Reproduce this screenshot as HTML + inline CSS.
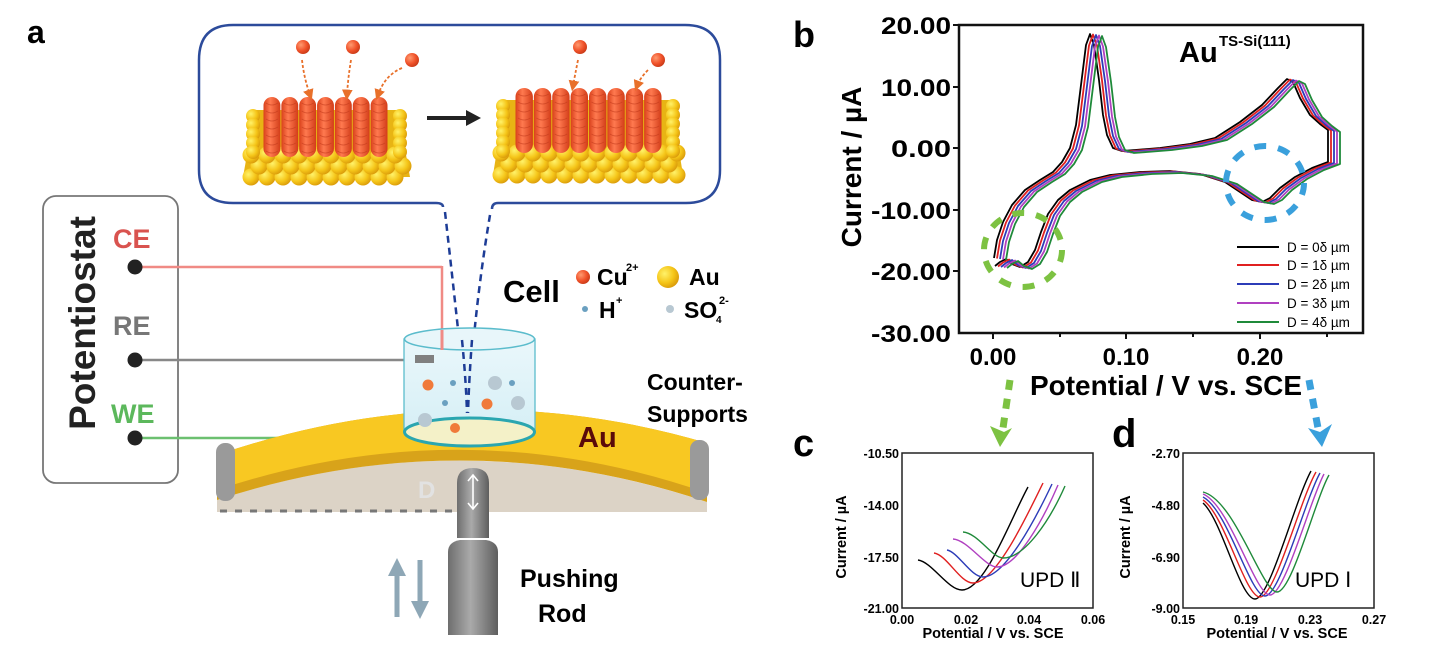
<!DOCTYPE html>
<html><head><meta charset="utf-8"><style>
html,body{margin:0;padding:0;background:#fff;}
svg{display:block;font-family:"Liberation Sans",Arial,sans-serif;}
.b{font-weight:bold;}
</style></head><body>
<svg id="s" width="1430" height="665" viewBox="0 0 1430 665" xmlns="http://www.w3.org/2000/svg">
<defs>
<marker id="oa" markerWidth="6" markerHeight="6" refX="3" refY="3" orient="auto"><path d="M0,0 L6,3 L0,6 Z" fill="#e8702a"/></marker>
<radialGradient id="gb" cx="0.35" cy="0.35" r="0.7"><stop offset="0" stop-color="#fff26a"/><stop offset="0.6" stop-color="#f5c518"/><stop offset="1" stop-color="#d99a0a"/></radialGradient>
<radialGradient id="ob" cx="0.35" cy="0.35" r="0.7"><stop offset="0" stop-color="#ff9a70"/><stop offset="0.6" stop-color="#f0522a"/><stop offset="1" stop-color="#c83a18"/></radialGradient>
<linearGradient id="rod" x1="0" x2="1"><stop offset="0" stop-color="#6e6e6e"/><stop offset="0.45" stop-color="#aaa"/><stop offset="1" stop-color="#5e5e5e"/></linearGradient>
<linearGradient id="orod" x1="0" x2="1"><stop offset="0" stop-color="#d8401a"/><stop offset="0.4" stop-color="#ff7a50"/><stop offset="1" stop-color="#d23c18"/></linearGradient>
<linearGradient id="cyl" x1="0" y1="0" x2="0" y2="1"><stop offset="0" stop-color="#eaf7fb"/><stop offset="1" stop-color="#d3eef5"/></linearGradient>
</defs>

<!-- ===== Panel a ===== -->
<text x="27" y="43" class="b" font-size="32">a</text>

<!-- callout -->
<path d="M443,207 Q443,203 436,203 L233,203 Q199,203 199,170 L199,60 Q199,25 233,25 L685,25 Q720,25 720,60 L720,170 Q720,203 686,203 L498,203 Q492,203 492,209" fill="none" stroke="#2c4b9b" stroke-width="2.5"/>
<path d="M445,212 Q455,300 467,413" fill="none" stroke="#1d3c96" stroke-width="2.5" stroke-dasharray="7 5"/>
<path d="M490,215 Q474,310 468,413" fill="none" stroke="#1d3c96" stroke-width="2.5" stroke-dasharray="7 5"/>
<g id="cryst"></g>
<!-- arrow -->
<line x1="427" y1="118" x2="468" y2="118" stroke="#222" stroke-width="4"/>
<path d="M466,110 L481,118 L466,126 Z" fill="#222"/>
<!-- balls & dashed arrows -->
<circle cx="303" cy="47" r="7" fill="url(#ob)"/><circle cx="353" cy="47" r="7" fill="url(#ob)"/><circle cx="412" cy="60" r="7" fill="url(#ob)"/>
<circle cx="580" cy="47" r="7" fill="url(#ob)"/><circle cx="658" cy="60" r="7" fill="url(#ob)"/>
<g fill="none" stroke="#e8702a" stroke-width="1.8" stroke-dasharray="3 2" marker-end="url(#oa)">
<path d="M302,60 Q304,78 310,95"/><path d="M351,60 Q348,78 347,95"/><path d="M402,68 Q385,75 378,95"/>
<path d="M578,60 Q575,75 573,86"/><path d="M648,70 Q640,78 637,86"/>
</g>

<!-- potentiostat -->
<rect x="43" y="196" width="135" height="287" rx="13" fill="none" stroke="#777" stroke-width="1.8"/>
<text transform="translate(95,323) rotate(-90)" text-anchor="middle" class="b" font-size="37" fill="#222">Potentiostat</text>
<text x="113" y="248" class="b" font-size="27" fill="#d9534f">CE</text>
<text x="113" y="335" class="b" font-size="27" fill="#777">RE</text>
<text x="111" y="423" class="b" font-size="27" fill="#5cb85c">WE</text>
<line x1="135" y1="267" x2="442" y2="267" stroke="#f08a85" stroke-width="2.5"/>
<line x1="442" y1="266" x2="442" y2="350" stroke="#f08a85" stroke-width="2.5"/>
<line x1="135" y1="360" x2="420" y2="360" stroke="#888" stroke-width="2.5"/>
<line x1="135" y1="438" x2="415" y2="438" stroke="#6cc070" stroke-width="2.5"/>
<circle cx="135" cy="267" r="7.5" fill="#222"/><circle cx="135" cy="360" r="7.5" fill="#222"/><circle cx="135" cy="438" r="7.5" fill="#222"/>

<!-- shadow below plate -->
<path d="M217,500 Q460,420 707,502 L707,512 L217,512 Z" fill="#dcd3c6"/>
<line x1="220" y1="511" x2="455" y2="511" stroke="#777" stroke-width="3" stroke-dasharray="7 8"/>
<!-- plate -->
<path d="M217,455 Q462,371 707,443 L707,502 Q462,420 217,500 Z" fill="#d8a31a"/>
<path d="M217,455 Q462,371 707,443 L707,493 Q462,408 217,490 Z" fill="#f8c822"/>
<!-- supports -->
<rect x="216" y="443" width="19" height="58" rx="9" fill="#9a9a9a"/>
<rect x="690" y="440" width="19" height="60" rx="9" fill="#9a9a9a"/>
<text x="418" y="498" class="b" font-size="24" fill="#e2e2e2">D</text>
<!-- rod -->
<path d="M457,538 L457,483 Q457,468 473,468 Q489,468 489,483 L489,538 Z" fill="url(#rod)"/>
<path d="M448,635 L448,552 Q448,542 460,540 L486,540 Q498,542 498,552 L498,635 Z" fill="url(#rod)"/>
<g stroke="#fff" stroke-width="1.6" fill="none"><line x1="473" y1="476" x2="473" y2="508"/><path d="M468,481 L473,475 L478,481"/><path d="M468,503 L473,509 L478,503"/></g>
<!-- up/down arrows -->
<line x1="397" y1="574" x2="397" y2="617" stroke="#8ea7b6" stroke-width="5"/><path d="M388,576 L397,558 L406,576 Z" fill="#8ea7b6"/>
<line x1="420" y1="560" x2="420" y2="603" stroke="#8ea7b6" stroke-width="5"/><path d="M411,601 L420,619 L429,601 Z" fill="#8ea7b6"/>

<!-- cell -->
<path d="M404,339 L404,432 A65,14 0 0 0 535,432 L535,339 Z" fill="url(#cyl)" stroke="#5bbccc" stroke-width="1.3"/>
<ellipse cx="469.5" cy="432" rx="65" ry="14" fill="#f4f1c8" stroke="#2aa6b0" stroke-width="3"/>
<ellipse cx="469.5" cy="339" rx="65" ry="11" fill="#e8f6fa" stroke="#5bbccc" stroke-width="1.5"/>
<line x1="442" y1="330" x2="442" y2="350" stroke="#f08a85" stroke-width="3"/>
<rect x="415" y="355" width="19" height="8" fill="#808080"/>
<path d="M462,340 Q466,380 467,413" fill="none" stroke="#1d3c96" stroke-width="2.5" stroke-dasharray="7 5"/>
<path d="M472,340 Q469,380 468,413" fill="none" stroke="#1d3c96" stroke-width="2.5" stroke-dasharray="7 5"/>
<circle cx="428" cy="385" r="5.5" fill="#f07a3a"/><circle cx="453" cy="383" r="3" fill="#6aa0c0"/><circle cx="495" cy="383" r="7" fill="#b8c8d2"/><circle cx="512" cy="383" r="3" fill="#6aa0c0"/>
<circle cx="445" cy="403" r="3" fill="#6aa0c0"/><circle cx="487" cy="404" r="5.5" fill="#f07a3a"/><circle cx="518" cy="403" r="7" fill="#b8c8d2"/><circle cx="425" cy="420" r="7" fill="#b8c8d2"/><circle cx="455" cy="428" r="5" fill="#f07a3a"/>

<text x="503" y="302" class="b" font-size="31">Cell</text>
<circle cx="583" cy="277" r="7" fill="url(#ob)"/><text x="597" y="285" class="b" font-size="23">Cu</text><text x="626" y="271" class="b" font-size="11">2+</text>
<circle cx="668" cy="277" r="11" fill="url(#gb)"/><text x="689" y="285" class="b" font-size="23">Au</text>
<circle cx="585" cy="309" r="3" fill="#6aa0c0"/><text x="599" y="318" class="b" font-size="23">H</text><text x="616" y="304" class="b" font-size="11">+</text>
<circle cx="670" cy="309" r="4" fill="#b8c8d2"/><text x="684" y="318" class="b" font-size="23">SO</text><text x="716" y="323" class="b" font-size="10">4</text><text x="719" y="304" class="b" font-size="11">2-</text>

<text x="578" y="447" class="b" font-size="29" fill="#5a0a0a">Au</text>
<text x="647" y="390" class="b" font-size="23">Counter-</text>
<text x="647" y="422" class="b" font-size="23">Supports</text>
<text x="520" y="587" class="b" font-size="25">Pushing</text>
<text x="538" y="622" class="b" font-size="25">Rod</text>

<!-- ===== Panel b ===== -->
<text x="793" y="47" class="b" font-size="36">b</text>
<rect x="959" y="25" width="404" height="308" fill="none" stroke="#111" stroke-width="2.5"/>
<g stroke="#111" stroke-width="2">
<line x1="953" y1="25" x2="959" y2="25"/><line x1="953" y1="87" x2="959" y2="87"/><line x1="953" y1="148" x2="959" y2="148"/><line x1="953" y1="210" x2="959" y2="210"/><line x1="953" y1="271" x2="959" y2="271"/>
<line x1="993" y1="333" x2="993" y2="339"/><line x1="1060" y1="333" x2="1060" y2="337"/><line x1="1126" y1="333" x2="1126" y2="339"/><line x1="1193" y1="333" x2="1193" y2="337"/><line x1="1260" y1="333" x2="1260" y2="339"/><line x1="1327" y1="333" x2="1327" y2="337"/>
</g>
<g class="b" font-size="24" text-anchor="end">
<text x="951" y="34" textLength="70" lengthAdjust="spacingAndGlyphs">20.00</text>
<text x="951" y="96" textLength="70" lengthAdjust="spacingAndGlyphs">10.00</text>
<text x="951" y="157" textLength="60" lengthAdjust="spacingAndGlyphs">0.00</text>
<text x="951" y="219" textLength="80" lengthAdjust="spacingAndGlyphs">-10.00</text>
<text x="951" y="280" textLength="80" lengthAdjust="spacingAndGlyphs">-20.00</text>
<text x="951" y="342" textLength="80" lengthAdjust="spacingAndGlyphs">-30.00</text>
</g>
<g class="b" font-size="24" text-anchor="middle">
<text x="993" y="365">0.00</text><text x="1126" y="365">0.10</text><text x="1260" y="365">0.20</text>
</g>
<text x="1166" y="395" class="b" font-size="28" text-anchor="middle" textLength="272" lengthAdjust="spacingAndGlyphs">Potential / V vs. SCE</text>
<text transform="translate(861,167) rotate(-90)" class="b" font-size="28" text-anchor="middle">Current / µA</text>
<text x="1179" y="62" class="b" font-size="29">Au</text><text x="1219" y="46" class="b" font-size="15">TS-Si(111)</text>
<g id="cv" fill="none" stroke-width="1.8" stroke-linejoin="round"></g>
<ellipse cx="1023" cy="250" rx="39" ry="37" fill="none" stroke="#7dc242" stroke-width="6" stroke-dasharray="12 12"/>
<ellipse cx="1265" cy="183" rx="39" ry="37" fill="none" stroke="#3aa0dc" stroke-width="6" stroke-dasharray="12 12"/>
<g font-size="13.5">
<line x1="1237" y1="247" x2="1279" y2="247" stroke="#000" stroke-width="2"/><text x="1287" y="252">D = 0δ µm</text>
<line x1="1237" y1="265" x2="1279" y2="265" stroke="#e02020" stroke-width="2"/><text x="1287" y="270">D = 1δ µm</text>
<line x1="1237" y1="284" x2="1279" y2="284" stroke="#2c3cb8" stroke-width="2"/><text x="1287" y="289">D = 2δ µm</text>
<line x1="1237" y1="303" x2="1279" y2="303" stroke="#b040c0" stroke-width="2"/><text x="1287" y="308">D = 3δ µm</text>
<line x1="1237" y1="322" x2="1279" y2="322" stroke="#1f8a3a" stroke-width="2"/><text x="1287" y="327">D = 4δ µm</text>
</g>
<!-- connecting arrows -->
<line x1="1010" y1="380" x2="1003" y2="428" stroke="#7dc242" stroke-width="7" stroke-dasharray="10 9"/>
<path d="M990,426 L1000,447 L1012,428 L1004,432 Z" fill="#7dc242"/>
<line x1="1309" y1="380" x2="1318" y2="428" stroke="#3aa0dc" stroke-width="7" stroke-dasharray="10 9"/>
<path d="M1308,428 L1322,447 L1332,424 L1320,432 Z" fill="#3aa0dc"/>

<!-- ===== Panel c ===== -->
<text x="793" y="456" class="b" font-size="38">c</text>
<rect x="902" y="453" width="191" height="155" fill="none" stroke="#222" stroke-width="1.5"/>
<g class="b" font-size="12.5" text-anchor="end">
<text x="899" y="458">-10.50</text><text x="899" y="510">-14.00</text><text x="899" y="562">-17.50</text><text x="899" y="613">-21.00</text>
</g>
<g class="b" font-size="12.5" text-anchor="middle">
<text x="902" y="624">0.00</text><text x="966" y="624">0.02</text><text x="1029" y="624">0.04</text><text x="1093" y="624">0.06</text>
</g>
<text x="993" y="638" class="b" font-size="14.5" text-anchor="middle">Potential / V vs. SCE</text>
<text transform="translate(846,537) rotate(-90)" class="b" font-size="14.5" text-anchor="middle">Current / µA</text>
<text x="1020" y="587" font-size="21">UPD Ⅱ</text>
<g fill="none" stroke-width="1.4">
<path stroke="#000" d="M918,560 C932,562 948,590 962,590 C985,590 1010,520 1028,487"/>
<path stroke="#e02020" d="M934,553 C947,555 960,583 973,583 C995,583 1025,520 1043,483"/>
<path stroke="#2c3cb8" d="M947,550 C958,552 971,577 983,577 C1005,577 1035,520 1052,484"/>
<path stroke="#b040c0" d="M953,539 C968,540 985,567 997,567 C1017,567 1043,520 1058,485"/>
<path stroke="#1f8a3a" d="M963,532 C978,533 992,558 1003,558 C1025,558 1050,520 1065,486"/>
</g>

<!-- ===== Panel d ===== -->
<text x="1112" y="447" class="b" font-size="40">d</text>
<rect x="1183" y="453" width="191" height="155" fill="none" stroke="#222" stroke-width="1.5"/>
<g class="b" font-size="12.5" text-anchor="end">
<text x="1180" y="458">-2.70</text><text x="1180" y="510">-4.80</text><text x="1180" y="562">-6.90</text><text x="1180" y="613">-9.00</text>
</g>
<g class="b" font-size="12.5" text-anchor="middle">
<text x="1183" y="624">0.15</text><text x="1246" y="624">0.19</text><text x="1310" y="624">0.23</text><text x="1374" y="624">0.27</text>
</g>
<text x="1277" y="638" class="b" font-size="14.5" text-anchor="middle">Potential / V vs. SCE</text>
<text transform="translate(1130,537) rotate(-90)" class="b" font-size="14.5" text-anchor="middle">Current / µA</text>
<text x="1295" y="587" font-size="21">UPD Ⅰ</text>
<g fill="none" stroke-width="1.4">
<path stroke="#000" d="M1203,503 C1222,520 1240,599 1255,599 C1270,599 1295,500 1311,471"/>
<path stroke="#e02020" d="M1203,500 C1225,515 1245,597 1260,597 C1275,597 1300,500 1316,472"/>
<path stroke="#2c3cb8" d="M1203,497 C1228,510 1250,596 1265,596 C1280,596 1305,500 1320,473"/>
<path stroke="#b040c0" d="M1203,494 C1230,505 1255,595 1270,595 C1285,595 1310,500 1324,474"/>
<path stroke="#1f8a3a" d="M1203,492 C1235,500 1262,592 1277,592 C1292,592 1315,500 1329,475"/>
</g>
</svg>
<script>
(function(){
var NS="http://www.w3.org/2000/svg";
function el(p,n,a){var e=document.createElementNS(NS,n);for(var k in a)e.setAttribute(k,a[k]);p.appendChild(e);return e;}
var g=document.getElementById("cryst");
function crystal(x0,x1,gy0,gy1,ox0,ox1,oy0,oy1,n){
  // gold base
  el(g,"path",{d:"M"+(x0+12)+","+gy0+" L"+(x1-12)+","+gy0+" L"+x1+","+(gy1-8)+" L"+x0+","+(gy1-8)+" Z",fill:"#e8b414"});
  for(var r=0;r<3;r++){
    var y=gy1-8-r*11, off=(r%2)*8;
    for(var x=x0+8+off;x<=x1-6;x+=16){el(g,"circle",{cx:x,cy:y,r:8.5,fill:"url(#gb)"});}
  }
  for(var yy=gy0+6;yy<gy1-30;yy+=9){
    el(g,"circle",{cx:x0+10+(yy-gy0)*0.0,cy:yy,r:7,fill:"url(#gb)"});
    el(g,"circle",{cx:x1-10,cy:yy,r:7,fill:"url(#gb)"});
  }
  var w=(ox1-ox0)/n;
  for(var i=0;i<n;i++){
    var rx=ox0+i*w;
    el(g,"rect",{x:rx+0.5,y:oy0,width:w-1,height:oy1-oy0,rx:(w-1)/2,fill:"url(#orod)"});
    for(var yy2=oy0+6;yy2<oy1-4;yy2+=8){el(g,"path",{d:"M"+(rx+3)+","+yy2+" Q"+(rx+w/2)+","+(yy2+4)+" "+(rx+w-3)+","+yy2,stroke:"#c0381a","stroke-width":0.8,fill:"none",opacity:0.6});}
  }
}
crystal(243,410,110,185,263,388,97,157,7);
crystal(493,683,100,183,515,662,88,153,8);
var cv=document.getElementById("cv");
var pts="994,258 997,240 1003,222 1012,205 1025,190 1040,180 1053,172 1062,162 1070,148 1076,125 1081,85 1086,45 1090,34 1094,45 1099,80 1103,115 1107,135 1113,148 1122,151 1135,150 1160,148 1190,144 1215,138 1240,122 1262,105 1278,88 1287,79 1293,82 1300,98 1310,115 1320,124 1328,130 1328,162 1312,168 1295,177 1280,188 1270,198 1262,202 1252,200 1240,192 1225,182 1200,174 1170,171 1140,172 1110,175 1090,180 1070,190 1058,200 1048,214 1041,232 1035,250 1028,262 1020,267 1012,264 1006,259 1000,262 995,266";
var cols=["#000","#e02020","#2c3cb8","#b040c0","#1f8a3a"];
for(var i=0;i<5;i++){el(cv,"polyline",{points:pts,stroke:cols[i],transform:"translate("+(i*3)+","+(i*0.5)+")"});}
})();
</script>
</body></html>
